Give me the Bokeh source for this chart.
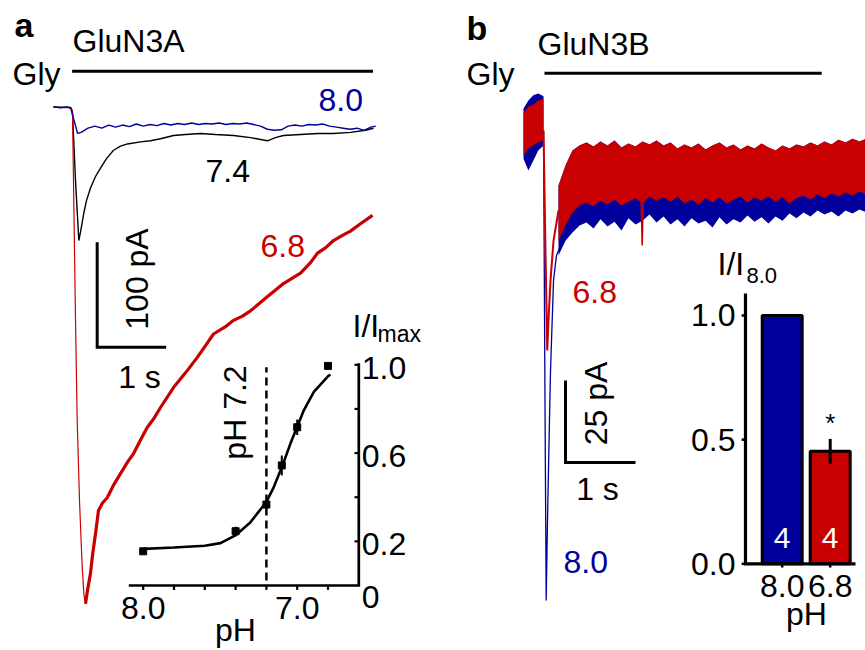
import math
from bokeh.plotting import figure
from bokeh.models import Range1d
from bokeh.core.properties import value
from bokeh.embed import file_html
from bokeh.resources import INLINE

BLUE = "#00009c"
RED = "#c80000"
FONT = value("Liberation Sans")

# ---------------- DATA ----------------
# Panel a: GluN3A currents (time in s, current in pA)
a_blue_t = [0.0, 0.1, 0.2, 0.25, 0.3, 0.35, 0.4, 0.5, 0.6, 0.7, 0.8, 0.9, 1.0,
            1.1, 1.2, 1.3, 1.4, 1.5, 1.6, 1.7, 1.8, 1.9, 2.0,
            2.1, 2.2, 2.3, 2.4, 2.5, 2.6, 2.7, 2.8, 2.9, 3.0,
            3.1, 3.2, 3.3, 3.4, 3.5, 3.6, 3.7, 3.8, 3.9, 4.0,
            4.1, 4.2, 4.3, 4.4, 4.5, 4.6, 4.67]
a_blue_i = [0.5, -0.5, 0.3, -1.0, -13, -25, -24, -20, -18, -20, -17, -19, -17,
            -18.5, -16, -18, -16.5, -17.5, -15.5, -17, -15.5, -16.5, -15,
            -16.5, -15.5, -16, -15, -16.5, -15.5, -16, -15, -16.5, -18,
            -21, -22, -21.5, -18, -17, -18, -16.5, -17, -16, -18,
            -19, -20, -21, -20, -22, -19, -18]

a_black_t = [0.0, 0.25, 0.275, 0.319, 0.367, 0.391, 0.439, 0.478, 0.536, 0.609,
             0.681, 0.768, 0.87, 0.971, 1.072, 1.261, 1.406, 1.551, 1.739, 1.913,
             2.13, 2.348, 2.609, 2.855, 3.101, 3.217, 3.333, 3.58, 3.826, 4.058,
             4.304, 4.522, 4.638]
a_black_i = [0, -0.3, -5, -70, -127, -119, -101, -89, -77, -66,
             -58, -49, -41, -37, -35, -33, -32, -30, -27, -26,
             -25, -26, -27, -29, -32, -29, -27, -26, -25, -25,
             -24, -22, -20]

a_red_t = [0.0, 0.246, 0.275, 0.294, 0.319, 0.343, 0.377, 0.416, 0.442, 0.464,
           0.493, 0.536, 0.565, 0.609, 0.652, 0.71, 0.778, 0.87, 0.971, 1.072,
           1.159, 1.261, 1.358, 1.449, 1.551, 1.739, 1.913, 2.087, 2.203, 2.319,
           2.493, 2.609, 2.739, 2.855, 3.072, 3.333, 3.58, 3.725, 3.826, 3.942,
           4.058, 4.188, 4.304, 4.449, 4.623]
a_red_i = [0, -0.3, -3.1, -89, -203, -298, -375, -438, -465, -473,
           -460, -444, -427, -406, -384, -377, -372, -360, -349, -338,
           -330, -317, -305, -297, -286, -267, -253, -238, -227, -216,
           -209, -203, -199, -194, -182, -168, -158, -148, -139, -134,
           -127, -122, -118, -111, -103]
a_red_peak_index = 9

gly_a = (0.27, 4.63)          # glycine application, s
# Panel a inset: pH dependence
ph_pts = [8.0, 7.4, 7.2, 7.1, 7.0, 6.8]
ph_resp = [0.155, 0.246, 0.367, 0.544, 0.717, 0.995]
ph_err = [0.01, 0.02, 0.02, 0.045, 0.035, 0.01]
fit_ph = [7.996, 7.801, 7.600, 7.498, 7.401, 7.303, 7.201, 7.152, 7.091,
          7.044, 7.0, 6.957, 6.892, 6.799, 6.784]
fit_resp = [0.166, 0.172, 0.18, 0.192, 0.227, 0.287, 0.378, 0.446, 0.552,
            0.643, 0.719, 0.794, 0.877, 0.949, 0.955]
ph_half = 7.2
ph_xticks = [8.0, 7.8, 7.6, 7.4, 7.2, 7.0, 6.8]
ph_xlabels = {8.0: "8.0", 7.0: "7.0"}
ph_yticks = [0.2, 0.4, 0.6, 0.8, 1.0]
ph_ylabels = {1.0: "1.0", 0.6: "0.6", 0.2: "0.2"}

# Panel b: GluN3B currents (time in s, current in pA); noisy band envelopes
b_pre_t = [0.0, 0.07, 0.14, 0.21, 0.286]
b_pre_red_hi = [4.6, 6.4, 7.0, 8.2, 8.8]
b_pre_red_lo = [-8.5, -6.4, -5.5, -4.6, -4.0]
b_pre_blue_hi = [5.8, 8.2, 9.8, 10.4, 9.5]
b_pre_blue_lo = [-9.5, -13.1, -10.1, -7.0, -5.5]

b_red_tr_t = [0.286, 0.314, 0.339, 0.357, 0.386, 0.429, 0.5]
b_red_tr_i = [-0.9, -37.5, -68.0, -58.8, -46.6, -34.5, -25.3]
b_blue_tr_t = [0.286, 0.307, 0.324, 0.343, 0.371, 0.386, 0.429, 0.471, 0.529]
b_blue_tr_i = [-0.9, -83.2, -144.2, -119.8, -89.3, -74.1, -46.6, -39.0, -36.0]

b_t = [0.5, 0.6, 0.7, 0.8, 0.9, 1.0, 1.1, 1.2, 1.3, 1.4, 1.5, 1.6, 1.7, 1.8, 1.9,
       2.0, 2.1, 2.2, 2.3, 2.4, 2.5, 2.6, 2.7, 2.8, 2.9, 3.0, 3.1, 3.2, 3.3, 3.4,
       3.5, 3.6, 3.7, 3.8, 3.9, 4.0, 4.1, 4.2, 4.3, 4.4, 4.5, 4.6, 4.7, 4.8, 4.9]
b_red_hi = [-17.7, -11.6, -7.0, -5.5, -4.6, -5.8, -4.3, -5.5, -4.0, -6.1,
            -4.9, -5.8, -4.3, -5.2, -4.0, -5.5, -4.6, -6.4, -5.2, -6.1,
            -4.9, -6.7, -5.5, -4.6, -6.1, -5.2, -6.7, -5.5, -6.4, -4.9,
            -6.1, -7.0, -5.5, -6.4, -5.2, -5.8, -4.6, -5.5, -4.3, -5.2,
            -3.7, -4.6, -3.4, -4.3, -3.4]
b_red_lo = [-34.5, -29.9, -25.9, -23.8, -22.9, -24.1, -22.3, -23.5, -22.0, -23.8,
            -22.6, -21.6, -23.2, -21.0, -22.3, -21.3, -22.6, -21.0, -23.2, -22.0,
            -23.5, -21.6, -22.9, -21.3, -23.2, -22.0, -21.0, -22.9, -21.3, -22.3,
            -21.0, -22.6, -21.3, -23.2, -21.6, -20.7, -22.0, -20.4, -21.6, -20.1,
            -21.0, -19.8, -20.7, -19.5, -20.4]
b_blue_lo = [-39.0, -34.5, -32.0, -29.9, -29.0, -30.8, -28.0, -30.2, -28.7, -31.4,
             -27.7, -29.6, -28.4, -26.5, -29.0, -27.1, -29.6, -28.0, -30.2, -27.7,
             -29.3, -28.4, -30.5, -27.4, -29.6, -28.0, -29.0, -26.8, -28.7, -27.4,
             -29.3, -27.1, -28.4, -26.2, -27.7, -25.9, -27.1, -25.3, -26.5, -25.6,
             -27.1, -25.3, -26.2, -25.0, -25.9]
b_spike_t = [1.68, 1.696, 1.71]
b_spike_i = [-22.0, -36.0, -22.0]
gly_b = (0.30, 4.26)

# Panel b inset: normalized current
bar_ph = ["8.0", "6.8"]
bar_val = [1.0, 0.453]
bar_err = [0.0, 0.05]
bar_n = ["4", "4"]
bar_colors = [BLUE, RED]
bar_yticks = [0.0, 0.5, 1.0]
bar_ylabels = ["0.0", "0.5", "1.0"]

# ---------------- LAYOUT (page pixels) ----------------
L, R, T, B = 0, 865, 0, 650
# panel a traces: px = AX0 + AXS*t ; py = AY0 - AYS*I
AX0, AXS, AY0, AYS = 53.0, 69.0, 106.7, 1.05
# panel b traces
BX0, BXS, BY0, BYS = 523.0, 70.0, 127.0, 3.28
# panel a inset: px = IX8 + IXS*(8-pH) ; py = IY0 - IYS*v
IX8, IXS, IY0, IYS = 142.7, 154.0, 585.0, 220.7
# panel b inset: px = QX0 + QXS*k ; py = QY0 - QYS*v
QX0, QXS, QY0, QYS = 781.7, 48.0, 563.3, 248.3

p = figure(width=R - L, height=B - T, x_range=Range1d(L, R), y_range=Range1d(B, T),
           output_backend="svg", toolbar_location=None,
           x_axis_location=None, y_axis_location=None, min_border=0)
p.grid.visible = False
p.outline_line_color = None

p.extra_x_ranges = {
    "ta": Range1d((L - AX0) / AXS, (R - AX0) / AXS),
    "tb": Range1d((L - BX0) / BXS, (R - BX0) / BXS),
    "ph": Range1d(8 + (IX8 - L) / IXS, 8 - (R - IX8) / IXS),
    "bar": Range1d((L - QX0) / QXS, (R - QX0) / QXS),
}
p.extra_y_ranges = {
    "ia": Range1d((AY0 - B) / AYS, (AY0 - T) / AYS),
    "ib": Range1d((BY0 - B) / BYS, (BY0 - T) / BYS),
    "v": Range1d((IY0 - B) / IYS, (IY0 - T) / IYS),
    "vb": Range1d((QY0 - B) / QYS, (QY0 - T) / QYS),
}
A = dict(x_range_name="ta", y_range_name="ia")
Bb = dict(x_range_name="tb", y_range_name="ib")
IN = dict(x_range_name="ph", y_range_name="v")
Q = dict(x_range_name="bar", y_range_name="vb")


def ph_px(ph):
    return IX8 + IXS * (8 - ph)


def v_py(v):
    return IY0 - IYS * v


def k_px(k):
    return QX0 + QXS * k


def vb_py(v):
    return QY0 - QYS * v


BASE_SHIFT = 0.36  # em: svg text is drawn this much lower than the given baseline


def txt(x, y, s, size=32, color="black", align="left", angle=0.0, style="normal"):
    d = BASE_SHIFT * size
    if angle:
        x -= d
    else:
        y -= d
    p.text(x=[x], y=[y], text=[s], text_font=FONT, text_font_size=f"{size}px",
           text_color=color, text_align=align, text_baseline="alphabetic",
           angle=angle, text_font_style=style)


# ---------------- PANEL A ----------------
p.line(a_black_t, a_black_i, color="black", line_width=1.4, **A)
k = a_red_peak_index
p.line(a_red_t[:k + 1], a_red_i[:k + 1], color=RED, line_width=1.2, **A)
p.line(a_red_t[k:], a_red_i[k:], color=RED, line_width=3.2, **A)
p.line(a_blue_t, a_blue_i, color=BLUE, line_width=1.4, **A)

gly_a_level = 34.3
p.segment(x0=[gly_a[0]], y0=[gly_a_level], x1=[gly_a[1]], y1=[gly_a_level],
          color="black", line_width=3, **A)
# scale bar 100 pA / 1 s
sa_t, sa_i = 0.633, -228.6
p.line([sa_t, sa_t, sa_t + 1.0], [sa_i + 100, sa_i, sa_i], color="black",
       line_width=3, line_join="miter", **A)

# inset a
p.segment(x0=[ph_half], y0=[0.023], x1=[ph_half], y1=[0.989], color="black",
          line_width=2.5, line_dash="8 5", **IN)
ax_left_ph, ax_right_ph, ax_top_v = 8.0935, 6.6, 1.007
p.line([ax_left_ph, ax_right_ph, ax_right_ph], [0, 0, ax_top_v], color="black",
       line_width=2.7, line_join="miter", **IN)
p.segment(x0=ph_xticks, y0=[0] * len(ph_xticks), x1=ph_xticks,
          y1=[-0.02] * len(ph_xticks), color="black", line_width=2.2, **IN)
p.segment(x0=[ax_right_ph] * len(ph_yticks), y0=ph_yticks,
          x1=[ax_right_ph + 0.028] * len(ph_yticks), y1=ph_yticks,
          color="black", line_width=2.2, **IN)
p.line(fit_ph, fit_resp, color="black", line_width=2.6, **IN)
p.segment(x0=ph_pts, y0=[r - e for r, e in zip(ph_resp, ph_err)], x1=ph_pts,
          y1=[r + e for r, e in zip(ph_resp, ph_err)], color="black", line_width=2, **IN)
p.scatter(ph_pts, ph_resp, marker="square", size=7, color="black", **IN)

# ---------------- PANEL B ----------------
p.varea(x=b_pre_t, y1=b_pre_blue_lo, y2=b_pre_blue_hi, fill_color=BLUE, **Bb)
p.varea(x=b_pre_t, y1=b_pre_red_lo, y2=b_pre_red_hi, fill_color=RED, **Bb)
p.varea(x=b_t, y1=b_blue_lo, y2=b_red_hi, fill_color=BLUE, **Bb)
p.varea(x=b_t, y1=b_red_lo, y2=b_red_hi, fill_color=RED, **Bb)
p.line(b_blue_tr_t, b_blue_tr_i, color=BLUE, line_width=1.3, **Bb)
p.line(b_red_tr_t, b_red_tr_i, color=RED, line_width=2.0, **Bb)
p.line(b_spike_t, b_spike_i, color=RED, line_width=1.5, **Bb)

gly_b_level = 16.55
p.segment(x0=[gly_b[0]], y0=[gly_b_level], x1=[gly_b[1]], y1=[gly_b_level],
          color="black", line_width=3, **Bb)
sb_t, sb_i = 0.6, -102.1
p.line([sb_t, sb_t, sb_t + 1.0], [sb_i + 25, sb_i, sb_i], color="black",
       line_width=3, line_join="miter", **Bb)

# inset b (bars)
bx = list(range(len(bar_val)))
p.vbar(x=bx, top=bar_val, bottom=0, width=0.833, fill_color=bar_colors,
       line_color="black", line_width=3, **Q)
p.segment(x0=[1], y0=[bar_val[1] - bar_err[1]], x1=[1], y1=[bar_val[1] + bar_err[1]],
          color="black", line_width=3, **Q)
qax_left, qax_right, qax_top = -0.765, 1.527, 1.089
p.line([qax_left, qax_left, qax_right], [qax_top, 0, 0], color="black",
       line_width=3.2, line_join="miter", **Q)
p.segment(x0=bx, y0=[0] * 2, x1=bx, y1=[-0.015] * 2, color="black", line_width=2.5, **Q)
p.segment(x0=[qax_left] * 3, y0=bar_yticks, x1=[qax_left - 0.08] * 3, y1=bar_yticks,
          color="black", line_width=2.5, **Q)

# ---------------- TEXT ----------------
txt(14, 37, "a", size=34, style="bold")
txt(72, 52, "GluN3A")
txt(12, 85, "Gly")
txt(318, 111.5, "8.0", color=BLUE)
txt(205, 182, "7.4")
txt(260, 257, "6.8", color=RED)
txt(148, 278.5, "100 pA", align="center", angle=math.pi / 2)
txt(139, 388, "1 s", align="center")

for v, s in ph_xlabels.items():
    txt(ph_px(v), 619, s, align="center")
for v, s in ph_ylabels.items():
    txt(ph_px(ax_right_ph) + 3, v_py(v) + 14.5, s)
txt(ph_px(ax_right_ph) + 3, 608, "0")
txt(352, 337, "I/I")
txt(377, 342, "max", size=23)
txt(235, 641, "pH", align="center")
txt(246, 412, "pH 7.2", align="center", angle=math.pi / 2)

txt(466, 40, "b", size=34, style="bold")
txt(537, 55, "GluN3B")
txt(466, 85, "Gly")
txt(572, 303, "6.8", color=RED)
txt(563, 573, "8.0", color=BLUE)
txt(607, 403, "25 pA", align="center", angle=math.pi / 2)
txt(597, 500, "1 s", align="center")

txt(717, 275, "I/I")
txt(746, 283, "8.0", size=22)
for v, s in zip(bar_yticks, bar_ylabels):
    txt(k_px(qax_left) - 10, vb_py(v) + 11.5, s, align="right")
for kk, s in zip(bx, bar_ph):
    txt(k_px(kk), 597, s, align="center")
for kk, s in zip(bx, bar_n):
    txt(k_px(kk), 548, s, size=30, color="white", align="center")
txt(k_px(1), 432, "*", size=26, align="center")
txt(806, 625, "pH", align="center")

open("out.html", "w").write(file_html(p, INLINE))
